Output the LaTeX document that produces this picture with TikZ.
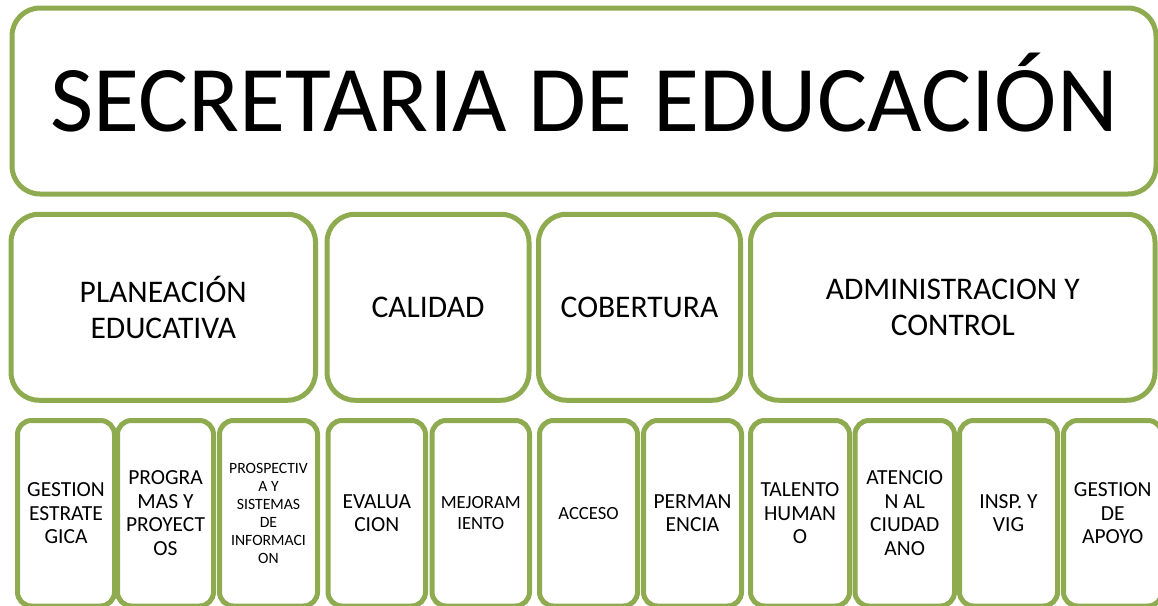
\documentclass[tikz,border=0pt]{standalone}
\usepackage{fontspec}
\setmainfont{Carlito}
\definecolor{boxgreen}{HTML}{8EAB50}
\begin{document}
\begin{tikzpicture}[x=1pt,y=-1pt,
  box/.style={draw=boxgreen, line width=5pt, fill=white, align=center, inner sep=0pt, outer sep=0pt, text=black, shape=rectangle},
  bigbox/.style={box, rounded corners=28pt, minimum height=186pt},
  subbox/.style={box, rounded corners=14pt, minimum height=185.5pt},
  titlefont/.style={font=\fontsize{94}{110}\selectfont, text height=60pt, text depth=0pt},
  areafont/.style={font=\fontsize{31.5}{35.5}\selectfont},
  unitfont/.style={font=\fontsize{21.5}{23.5}\selectfont},
  smallfont/.style={font=\fontsize{18.6}{21}\selectfont},
  tinyfont/.style={font=\fontsize{15.7}{18}\selectfont},
]
\useasboundingbox (0,0) rectangle (1158,605);
\clip (0,0) rectangle (1158,605);

% title
\node[bigbox, titlefont, minimum width=1144pt] (sec) at (584,101) {SECRETARIA DE EDUCACIÓN};

% areas
\node[bigbox, areafont, minimum width=304.5pt] (plan) at (163.25,307.25) {PLANEACIÓN\\EDUCATIVA};
\node[bigbox, areafont, minimum width=202pt] (cal) at (428,307.25) {CALIDAD};
\node[bigbox, areafont, minimum width=202pt] (cob) at (639.5,307.25) {COBERTURA};
\node[bigbox, areafont, minimum width=404.5pt] (adm) at (952.75,307.25) {ADMINISTRACION Y\\CONTROL};

% units
\node[subbox, unitfont, minimum width=97pt] (u1) at (66,513.25) {GESTION\\ESTRATE\\GICA};
\node[subbox, unitfont, minimum width=96pt] (u2) at (165.5,513.25) {PROGRA\\MAS Y\\PROYECT\\OS};
\node[subbox, tinyfont, minimum width=98pt] (u3) at (268.5,513.25) {PROSPECTIV\\A Y\\SISTEMAS\\DE\\INFORMACI\\ON};
\node[subbox, unitfont, minimum width=97.5pt] (u4) at (376.75,513.25) {EVALUA\\CION};
\node[subbox, smallfont, minimum width=97.5pt] (u5) at (480.75,513.25) {MEJORAM\\IENTO};
\node[subbox, smallfont, minimum width=98pt] (u6) at (588.5,513.25) {ACCESO};
\node[subbox, unitfont, minimum width=98pt] (u7) at (692.5,513.25) {PERMAN\\ENCIA};
\node[subbox, unitfont, minimum width=99pt] (u8) at (800,513.25) {TALENTO\\HUMAN\\O};
\node[subbox, unitfont, minimum width=99.5pt] (u9) at (904.75,513.25) {ATENCIO\\N AL\\CIUDAD\\ANO};
\node[subbox, unitfont, minimum width=98pt] (u10) at (1008.5,513.25) {INSP. Y\\VIG};
\node[subbox, unitfont, minimum width=98.5pt] (u11) at (1112.75,513.25) {GESTION\\DE\\APOYO};
\end{tikzpicture}
\end{document}
